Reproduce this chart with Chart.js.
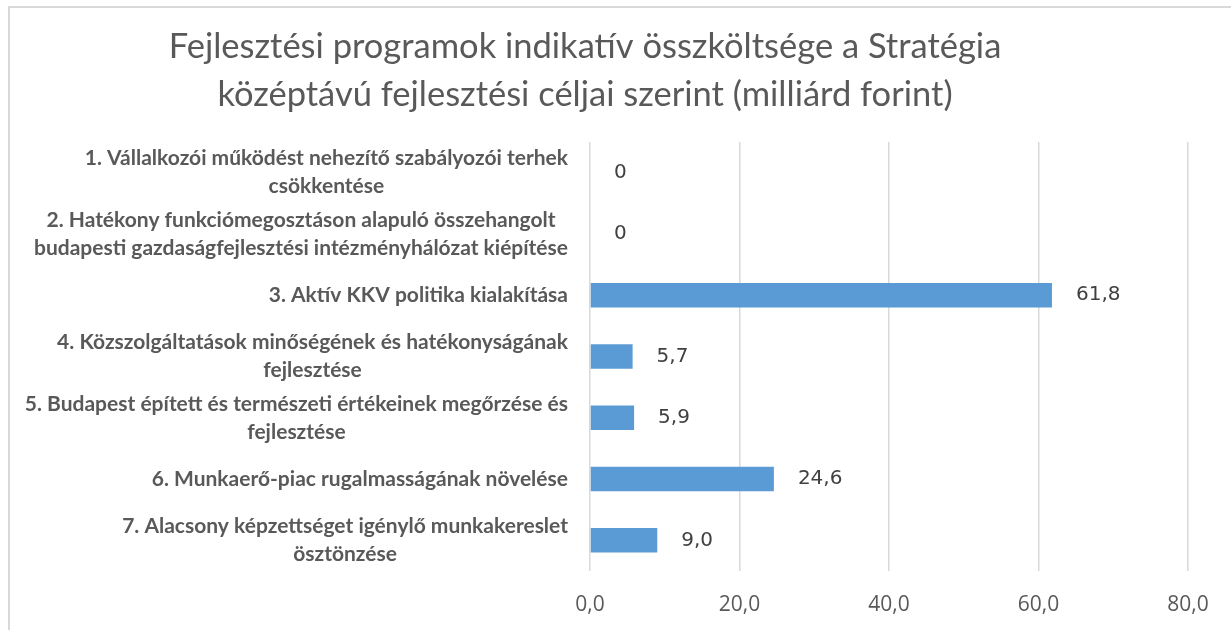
<!DOCTYPE html>
<html>
<head>
<meta charset="utf-8">
<script src="https://cdn.jsdelivr.net/npm/chart.js@4/dist/chart.umd.min.js"></script>
<style>
  html, body { margin: 0; padding: 0; background: #ffffff; }
  #wrap { position: relative; width: 1231px; height: 630px; overflow: hidden; }
  #frame { position: absolute; left: 8px; top: 6px; width: 1400px; height: 800px;
           border-left: 2px solid #D9D9D9; border-top: 2px solid #D9D9D9; box-sizing: border-box; }
  canvas { position: absolute; left: 0; top: 0; }
</style>
</head>
<body>
<div id="wrap">
  <div id="frame"></div>
  <canvas id="c" width="1231" height="630"></canvas>
</div>
<script>
// ---- data ----
const titleLines = [
  "Fejlesztési programok indikatív összköltsége a Stratégia",
  "középtávú fejlesztési céljai szerint (milliárd forint)"
];
const categories = [
  ["1. Vállalkozói működést nehezítő szabályozói terhek", "csökkentése"],
  ["2. Hatékony funkciómegosztáson alapuló összehangolt", "budapesti gazdaságfejlesztési intézményhálózat kiépítése"],
  ["3. Aktív KKV politika kialakítása"],
  ["4. Közszolgáltatások minőségének és hatékonyságának", "fejlesztése"],
  ["5. Budapest épített és természeti értékeinek megőrzése és", "fejlesztése"],
  ["6. Munkaerő-piac rugalmasságának növelése"],
  ["7. Alacsony képzettséget igénylő munkakereslet", "ösztönzése"]
];
const values = [0, 0, 61.8, 5.7, 5.9, 24.6, 9.0];
const xTicks = [0, 20, 40, 60, 80];

function fmt(v) { return v.toFixed(1).replace('.', ','); }
function fmtLabel(v) { return v === 0 ? '0' : fmt(v); }

const textPlugin = {
  id: 'textPlugin',
  afterDraw(chart) {
    const ctx = chart.ctx;
    const ys = chart.scales.y;
    const area = chart.chartArea;
    ctx.save();
    ctx.fillStyle = '#595959';
    ctx.textBaseline = 'middle';
    ctx.textAlign = 'center';
    // title
    ctx.font = '34.5px Lato';
    titleLines.forEach((t, i) => ctx.fillText(t, 585, 47 + i * 48));
    // category labels: right-aligned blocks, lines centered inside the block
    ctx.font = 'bold 21px Lato';
    categories.forEach((lines, i) => {
      const cy = ys.getPixelForValue(i);
      const w = Math.max(...lines.map(l => ctx.measureText(l).width));
      const cx = area.left - 22 - w / 2;
      lines.forEach((l, j) => ctx.fillText(l, cx, cy + (j - (lines.length - 1) / 2) * 28));
    });
    // data labels
    ctx.fillStyle = '#404040';
    ctx.textAlign = 'left';
    ctx.font = '20px "DejaVu Sans"';
    const meta = chart.getDatasetMeta(0);
    meta.data.forEach((bar, i) => {
      ctx.fillText(fmtLabel(values[i]), bar.x + 24, bar.y);
    });
    ctx.restore();
  }
};

new Chart(document.getElementById('c'), {
  type: 'bar',
  data: {
    labels: categories,
    datasets: [{
      data: values,
      backgroundColor: '#5B9BD5',
      barPercentage: 0.4,
      categoryPercentage: 1.0
    }]
  },
  options: {
    indexAxis: 'y',
    responsive: false,
    animation: false,
    layout: { padding: { left: 590, top: 142, right: 43, bottom: 0 } },
    plugins: { legend: { display: false }, tooltip: { enabled: false }, title: { display: false } },
    scales: {
      x: {
        min: 0, max: 80,
        afterFit(s) { s.height = 59; },
        afterBuildTicks(s) { s.ticks = xTicks.map(v => ({ value: v })); },
        grid: { color: '#D9D9D9', lineWidth: 1.5, drawTicks: false },
        border: { display: false },
        ticks: {
          padding: 21,
          color: '#595959',
          font: { family: 'Open Sans', size: 21 },
          callback: (v) => fmt(v)
        }
      },
      y: { display: false }
    }
  },
  plugins: [textPlugin]
});
</script>
</body>
</html>
